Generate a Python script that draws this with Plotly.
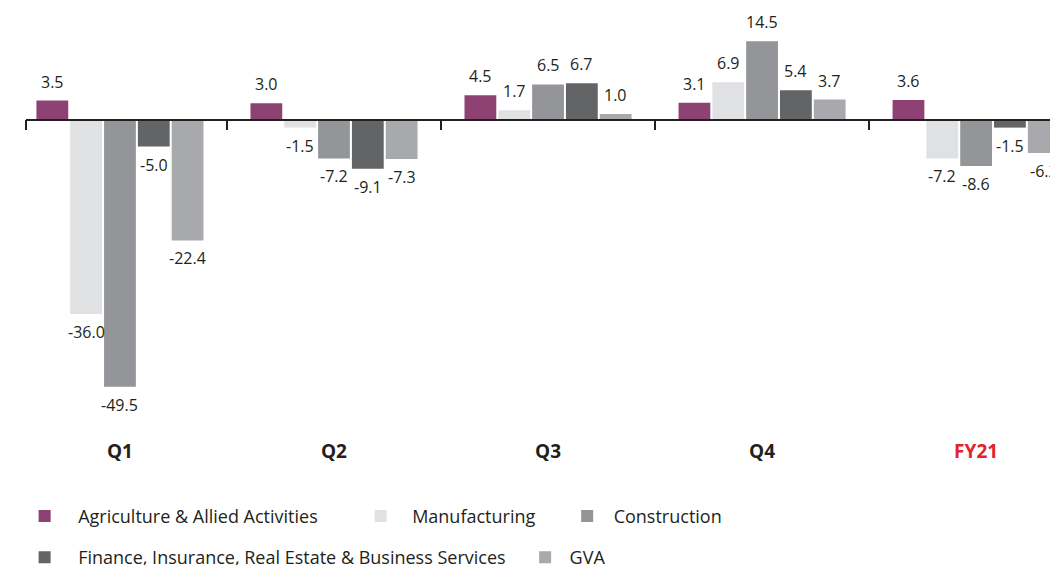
import plotly.graph_objects as go

categories = ["Q1", "Q2", "Q3", "Q4", "FY21"]
series_names = ["Agriculture & Allied Activities", "Manufacturing", "Construction",
                "Finance, Insurance, Real Estate & Business Services", "GVA"]
agri = [3.5, 3.0, 4.5, 3.1, 3.6]
manuf = [-36.0, -1.5, 1.7, 6.9, -7.2]
constr = [-49.5, -7.2, 6.5, 14.5, -8.6]
finance = [-5.0, -9.1, 6.7, 5.4, -1.5]
gva = [-22.4, -7.3, 1.0, 3.7, -6.2]
series_values = [agri, manuf, constr, finance, gva]
colors = ["#8e4273", "#e0e1e3", "#939598", "#636466", "#a7a9ac"]
legend_ids = ["legend", "legend2", "legend3", "legend4", "legend5"]
legend_x = [-0.0143, 0.3107, 0.5141, -0.0143, 0.4756]
legend_y = [-0.140, -0.140, -0.140, -0.236, -0.236]
legend_itemwidth = [57, 53, 43, 57, 39]

FONT = "Open Sans"
TXT = "#231f20"

x_range = [-0.439, 4.42]
y_range = [-58.98, 20.28]

fig = go.Figure()
for name, vals, col, lg in zip(series_names, series_values, colors, legend_ids):
    fig.add_trace(go.Bar(x=categories, y=vals, name=name, marker_color=col,
                         marker_line_width=0, legend=lg))

# value labels
n = len(series_values)
slot = (1 - 0.21) / n
for j, vals in enumerate(series_values):
    for i, v in enumerate(vals):
        fig.add_annotation(x=i + (j - (n - 1) / 2) * slot, y=v, xref="x", yref="y",
                           text=f"{v:.1f}", showarrow=False,
                           yshift=19 if v >= 0 else -18,
                           font=dict(family=FONT, size=16, color=TXT))

ticktext = [c if c != "FY21" else "<span style='color:#e3232c'>FY21</span>" for c in categories]

legends = {}
for lg, lx, ly, iw in zip(legend_ids, legend_x, legend_y, legend_itemwidth):
    legends[lg] = dict(orientation="h", x=lx, y=ly, xanchor="left", yanchor="top",
                       font=dict(family=FONT, size=18, color=TXT), itemwidth=iw,
                       bgcolor="rgba(0,0,0,0)")

fig.update_layout(
    width=1058, height=565,
    margin=dict(l=18, r=0, t=2, b=135, autoexpand=False),
    paper_bgcolor="white", plot_bgcolor="white",
    barmode="group", bargap=0.21, bargroupgap=0.06,
    font=dict(family=FONT, color=TXT),
    xaxis=dict(range=x_range, tickmode="array", tickvals=list(range(len(categories))),
               ticktext=ticktext, ticks="", showline=False, showgrid=False, zeroline=False,
               tickfont=dict(family=FONT, size=19, color=TXT, weight="bold")),
    xaxis2=dict(overlaying="x", anchor="free",
                position=(0 - y_range[0]) / (y_range[1] - y_range[0]),
                range=x_range, tickmode="array", tickvals=[-0.439, 0.5, 1.5, 2.5, 3.5],
                showticklabels=False, ticks="outside", ticklen=10, tickwidth=1.5,
                tickcolor=TXT, showline=True, linecolor=TXT, linewidth=1.5,
                showgrid=False, zeroline=False),
    yaxis=dict(range=y_range, visible=False),
    **legends,
)
# invisible trace to activate xaxis2
fig.add_trace(go.Scatter(x=[0], y=[0], xaxis="x2", yaxis="y", mode="markers",
                         marker=dict(opacity=0), showlegend=False, hoverinfo="skip"))

fig.write_html("out.html")
